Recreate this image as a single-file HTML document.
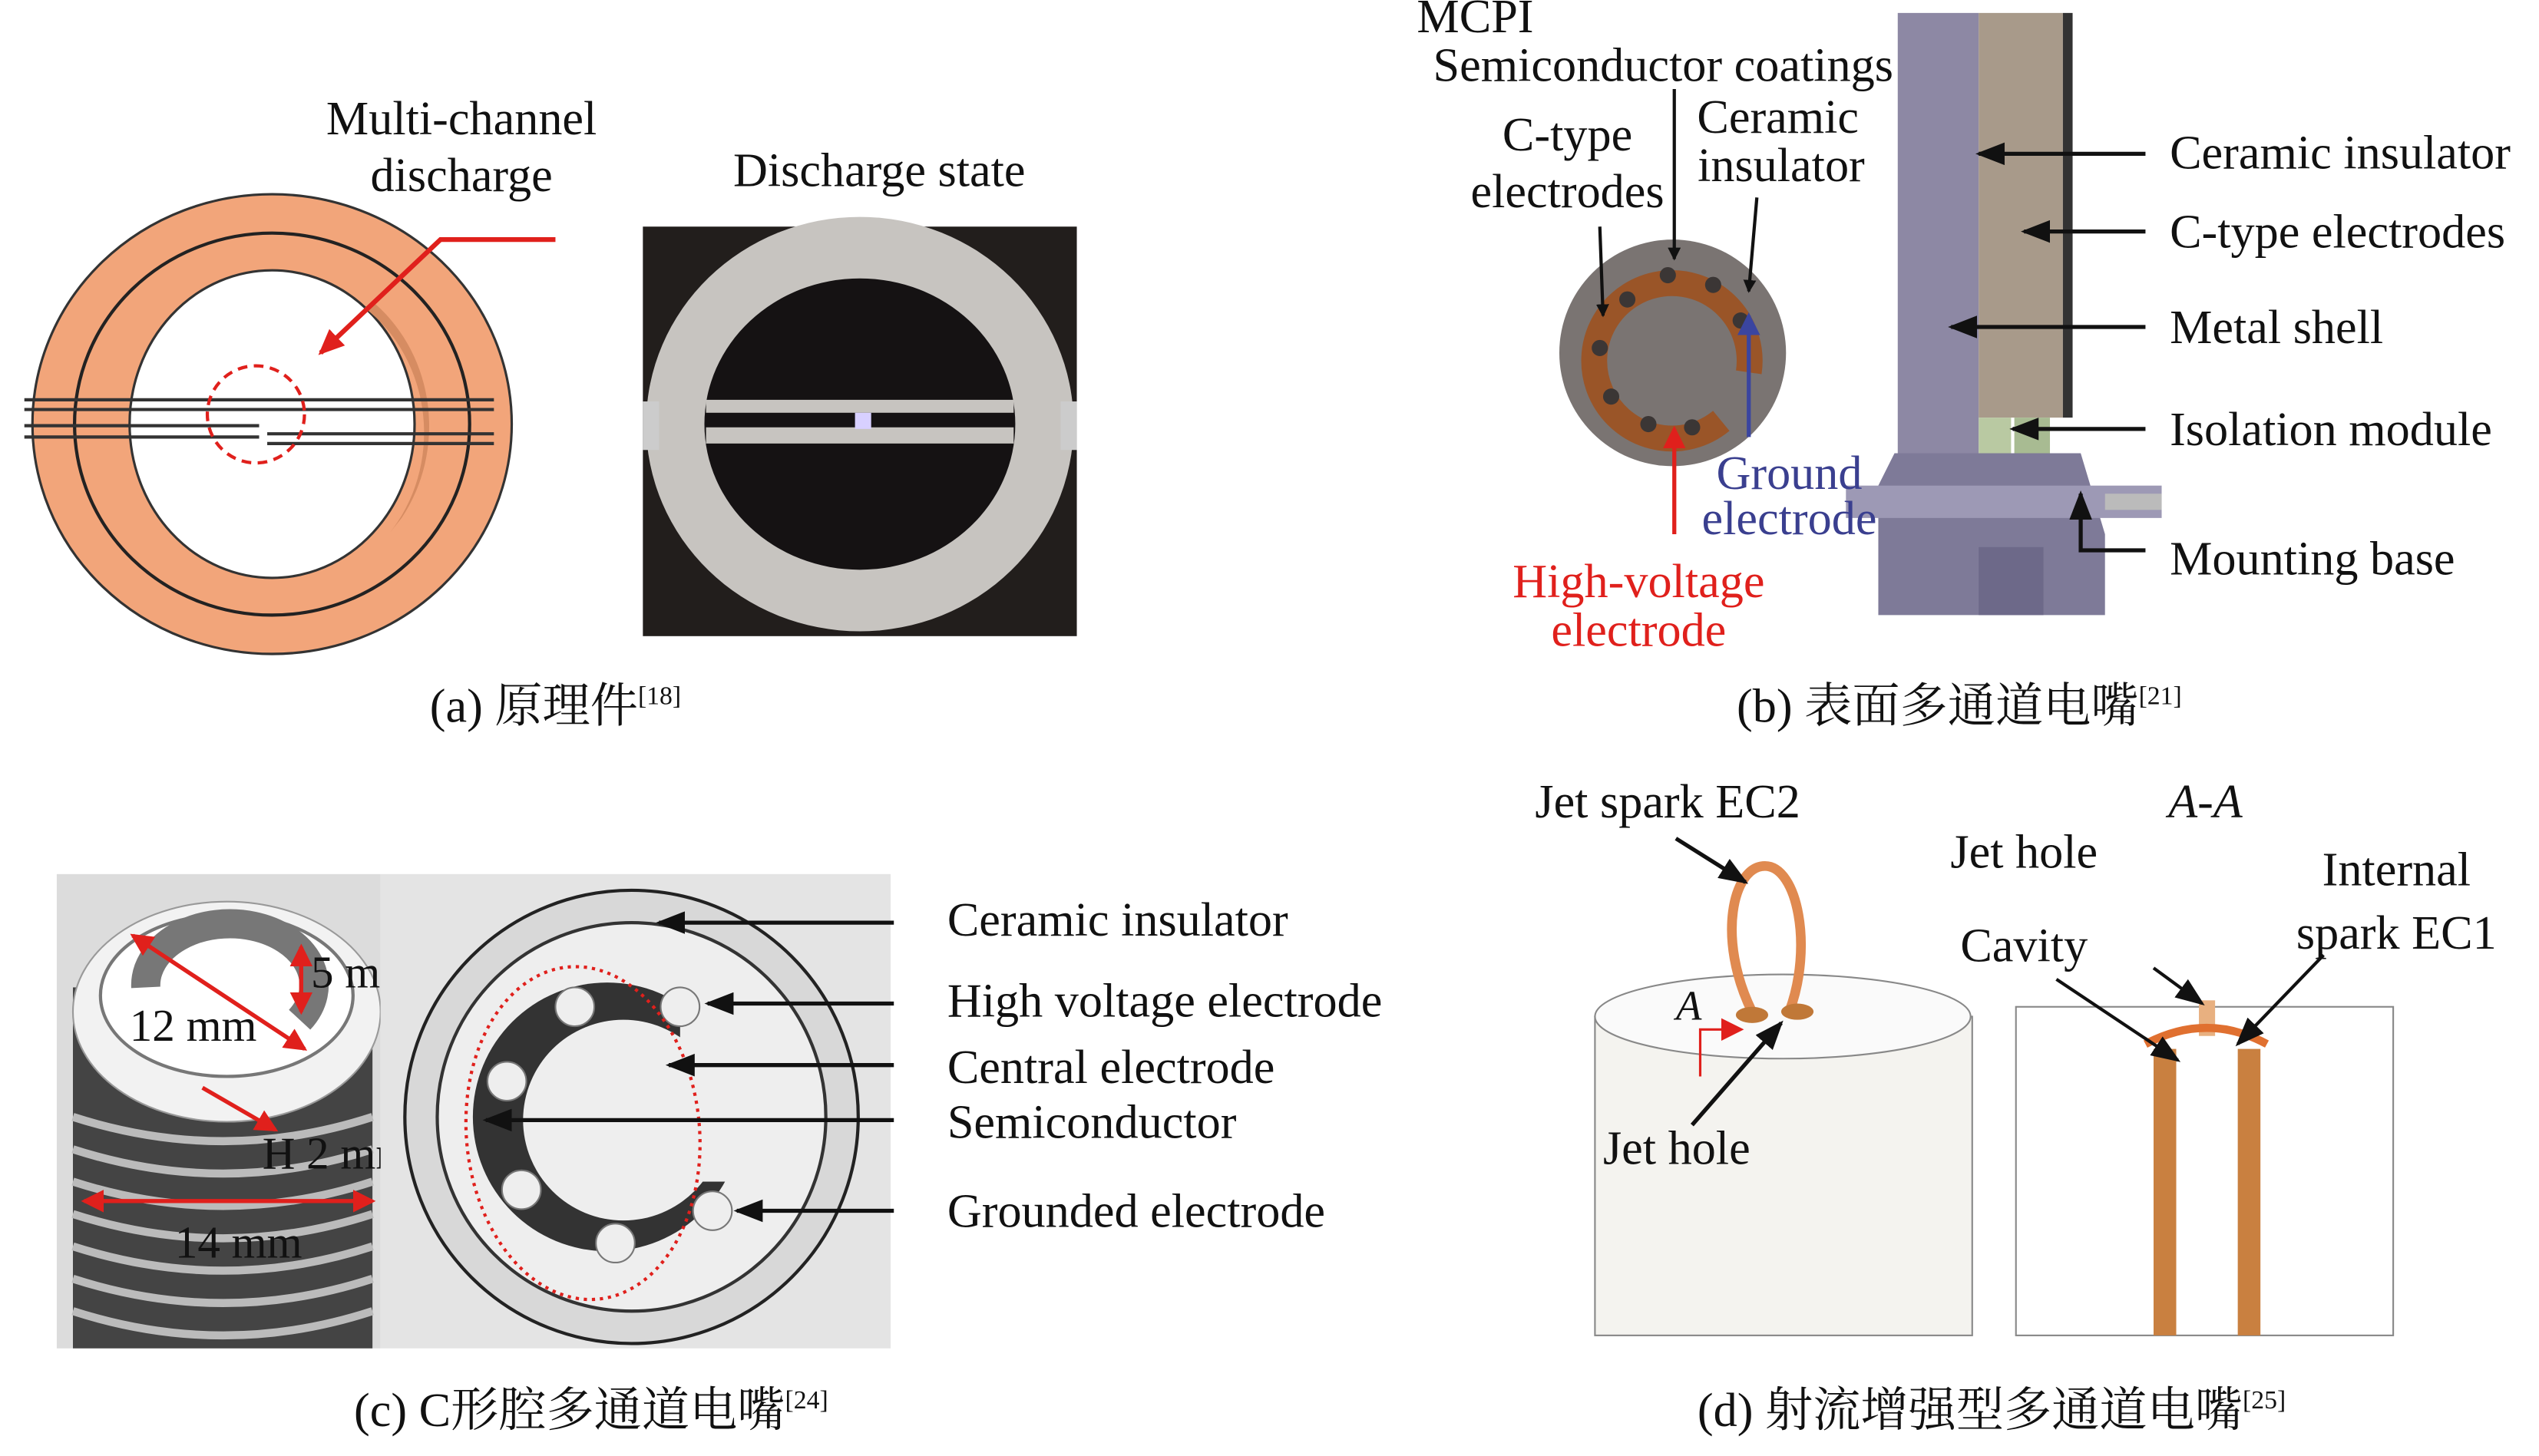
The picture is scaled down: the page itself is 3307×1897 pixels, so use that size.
<!DOCTYPE html>
<html><head><meta charset="utf-8"><style>
html,body{margin:0;padding:0;background:#fff;}
svg{display:block;}
text{font-family:"Liberation Serif","Noto Serif CJK SC",serif;fill:#111;}
</style></head><body>
<svg width="3307" height="1897" viewBox="0 0 1568 899.5" xmlns="http://www.w3.org/2000/svg">
<defs>
<marker id="ab" markerWidth="8" markerHeight="8" refX="7" refY="4" orient="auto" markerUnits="userSpaceOnUse"><path d="M0,0 L8,4 L0,8 z" fill="#111"/></marker>
<marker id="ar" markerWidth="16" markerHeight="14" refX="14" refY="7" orient="auto" markerUnits="userSpaceOnUse"><path d="M0,0 L16,7 L0,14 z" fill="#e0201c"/></marker>
<marker id="ak" markerWidth="18" markerHeight="14" refX="16" refY="7" orient="auto" markerUnits="userSpaceOnUse"><path d="M0,0 L18,7 L0,14 z" fill="#111"/></marker>
<marker id="abl" markerWidth="14" markerHeight="14" refX="12" refY="7" orient="auto" markerUnits="userSpaceOnUse"><path d="M0,0 L14,7 L0,14 z" fill="#3a45a0"/></marker>
<marker id="are" markerWidth="14" markerHeight="14" refX="12" refY="7" orient="auto" markerUnits="userSpaceOnUse"><path d="M0,0 L14,7 L0,14 z" fill="#e0201c"/></marker>
</defs>

<!-- Panel a -->
<ellipse cx="168" cy="262" rx="148" ry="142" fill="#f2a57a" stroke="#333" stroke-width="1.5"/>
<ellipse cx="168" cy="262" rx="122" ry="118" fill="none" stroke="#222" stroke-width="2"/>
<ellipse cx="168" cy="262" rx="88" ry="95" fill="#fff" stroke="#333" stroke-width="1.5"/>
<path d="M225,190 A88,95 0 0 1 240,330 L248,320 A92,98 0 0 0 232,188 z" fill="#d68c62"/>
<g stroke="#333" stroke-width="2">
<line x1="15" y1="247" x2="305" y2="247"/><line x1="15" y1="253" x2="305" y2="253"/>
<line x1="15" y1="263" x2="160" y2="263"/><line x1="165" y1="268" x2="305" y2="268"/>
<line x1="15" y1="270" x2="160" y2="270"/><line x1="165" y1="274" x2="305" y2="274"/>
</g>
<circle cx="158" cy="256" r="30" fill="none" stroke="#e0201c" stroke-width="2" stroke-dasharray="6,4"/>
<polyline points="343,148 272,148 198,218" fill="none" stroke="#e0201c" stroke-width="3" marker-end="url(#ar)"/>
<g font-size="29.5">
<text x="285" y="83" text-anchor="middle">Multi-channel</text>
<text x="285" y="118" text-anchor="middle">discharge</text>
<text x="543" y="115" text-anchor="middle">Discharge state</text>
</g>
<rect x="397" y="140" width="268" height="253" fill="#221e1c"/>
<ellipse cx="531" cy="262" rx="132" ry="128" fill="#c7c4c0"/>
<ellipse cx="531" cy="262" rx="96" ry="90" fill="#151213"/>
<rect x="436" y="247" width="190" height="8" fill="#c7c4c0"/>
<rect x="436" y="264" width="190" height="10" fill="#c7c4c0"/>
<rect x="528" y="255" width="10" height="10" fill="#d8d0ff"/>
<rect x="397" y="248" width="10" height="30" fill="#ccc"/><rect x="655" y="248" width="10" height="30" fill="#ccc"/>
<text x="343" y="446" font-size="29.5" text-anchor="middle">(a) 原理件<tspan font-size="16" dy="-11">[18]</tspan></text>

<!-- Panel b -->
<rect x="1172" y="8" width="50" height="330" fill="#8d88a4"/>
<rect x="1222" y="8" width="52" height="250" fill="#a89a8a"/>
<rect x="1274" y="8" width="6" height="250" fill="#333"/>
<rect x="1222" y="258" width="20" height="78" fill="#b9c9a2"/>
<rect x="1244" y="258" width="22" height="78" fill="#a8bb92"/>
<polygon points="1170,280 1160,300 1160,380 1300,380 1300,330 1285,280" fill="#7e7a98"/>
<rect x="1140" y="300" width="195" height="20" fill="#9d99b5"/>
<rect x="1300" y="305" width="35" height="10" fill="#bbb"/>
<rect x="1222" y="338" width="40" height="42" fill="#6d6989"/>
<circle cx="1033" cy="218" r="70" fill="#7a7472"/>
<path d="M1063,260 A48,48 0 1 1 1080,230" fill="none" stroke="#9a5528" stroke-width="16"/>
<g fill="#3b3635"><circle cx="1005" cy="185" r="5"/><circle cx="1030" cy="170" r="5"/><circle cx="1058" cy="176" r="5"/><circle cx="1075" cy="198" r="5"/><circle cx="988" cy="215" r="5"/><circle cx="995" cy="245" r="5"/><circle cx="1018" cy="262" r="5"/><circle cx="1045" cy="264" r="5"/></g>
<g font-size="29.5">
<text x="875" y="20">MCPI</text>
<text x="885" y="50">Semiconductor coatings</text>
<text x="968" y="93" text-anchor="middle">C-type</text>
<text x="968" y="128" text-anchor="middle">electrodes</text>
<text x="1098" y="82" text-anchor="middle">Ceramic</text>
<text x="1100" y="112" text-anchor="middle">insulator</text>
</g>
<line x1="1034" y1="55" x2="1034" y2="160" stroke="#111" stroke-width="2" marker-end="url(#ab)"/>
<line x1="988" y1="140" x2="990" y2="195" stroke="#111" stroke-width="2" marker-end="url(#ab)"/>
<line x1="1085" y1="122" x2="1080" y2="180" stroke="#111" stroke-width="2" marker-end="url(#ab)"/>
<line x1="1080" y1="270" x2="1080" y2="195" stroke="#3a45a0" stroke-width="2.5" marker-end="url(#abl)"/>
<line x1="1034" y1="330" x2="1034" y2="265" stroke="#e0201c" stroke-width="2.5" marker-end="url(#are)"/>
<g font-size="29.5" text-anchor="middle">
<text x="1105" y="302" style="fill:#3a3f8f">Ground</text>
<text x="1105" y="330" style="fill:#3a3f8f">electrode</text>
<text x="1012" y="369" style="fill:#e0201c">High-voltage</text>
<text x="1012" y="399" style="fill:#e0201c">electrode</text>
</g>
<g stroke="#111" stroke-width="2.5">
<line x1="1325" y1="95" x2="1222" y2="95" marker-end="url(#ak)"/>
<line x1="1325" y1="143" x2="1250" y2="143" marker-end="url(#ak)"/>
<line x1="1325" y1="202" x2="1205" y2="202" marker-end="url(#ak)"/>
<line x1="1325" y1="265" x2="1243" y2="265" marker-end="url(#ak)"/>
<polyline points="1325,340 1285,340 1285,305" fill="none" marker-end="url(#ak)"/>
</g>
<g font-size="29.5">
<text x="1340" y="104">Ceramic insulator</text>
<text x="1340" y="153">C-type electrodes</text>
<text x="1340" y="212">Metal shell</text>
<text x="1340" y="275">Isolation module</text>
<text x="1340" y="355">Mounting base</text>
</g>
<text x="1210" y="446" font-size="29.5" text-anchor="middle">(b) 表面多通道电嘴<tspan font-size="16" dy="-11">[21]</tspan></text>

<!-- Panel c -->
<rect x="35" y="540" width="200" height="293" fill="#dcdcdc"/>
<rect x="45" y="610" width="185" height="223" fill="#444"/>
<g stroke="#bbb" stroke-width="5" fill="none">
<path d="M45,690 Q138,720 230,690"/><path d="M45,710 Q138,740 230,710"/><path d="M45,730 Q138,760 230,730"/><path d="M45,750 Q138,780 230,750"/><path d="M45,770 Q138,800 230,770"/><path d="M45,790 Q138,820 230,790"/><path d="M45,810 Q138,840 230,810"/>
</g>
<ellipse cx="140" cy="625" rx="95" ry="68" fill="#f2f2f2" stroke="#999"/>
<ellipse cx="140" cy="615" rx="78" ry="50" fill="#fff" stroke="#777" stroke-width="2"/>
<path d="M90,610 A52,38 0 1 1 185,630" fill="none" stroke="#777" stroke-width="18"/>
<g stroke="#e0201c" stroke-width="2.5">
<line x1="82" y1="578" x2="188" y2="648" marker-end="url(#are)"/><line x1="188" y1="648" x2="82" y2="578" marker-end="url(#are)"/>
<line x1="186" y1="585" x2="186" y2="625" marker-end="url(#are)"/><line x1="186" y1="625" x2="186" y2="585" marker-end="url(#are)"/>
<line x1="125" y1="672" x2="170" y2="698" marker-end="url(#are)"/>
<line x1="52" y1="742" x2="230" y2="742" marker-end="url(#are)"/><line x1="230" y1="742" x2="52" y2="742" marker-end="url(#are)"/>
</g>
<g font-size="28">
<text x="192" y="610">5 mm</text>
<text x="80" y="643">12 mm</text>
<text x="162" y="722">H 2 mm</text>
<text x="108" y="777">14 mm</text>
</g>
<rect x="235" y="540" width="315" height="293" fill="#e4e4e4"/>
<circle cx="390" cy="690" r="140" fill="#d8d8d8" stroke="#222" stroke-width="2"/>
<circle cx="390" cy="690" r="120" fill="#eee" stroke="#333" stroke-width="2"/>
<circle cx="375" cy="690" r="83" fill="#333"/>
<circle cx="385" cy="692" r="62" fill="#eee"/>
<rect x="420" y="600" width="40" height="130" fill="#eee"/>
<g fill="#eee" stroke="#777"><circle cx="355" cy="622" r="12"/><circle cx="420" cy="622" r="12"/><circle cx="313" cy="668" r="12"/><circle cx="322" cy="735" r="12"/><circle cx="380" cy="768" r="12"/><circle cx="440" cy="748" r="12"/></g>
<ellipse cx="360" cy="700" rx="72" ry="103" fill="none" stroke="#e0201c" stroke-width="2" stroke-dasharray="2,3" transform="rotate(-5 360 700)"/>
<g stroke="#111" stroke-width="2.5">
<line x1="552" y1="570" x2="407" y2="570" marker-end="url(#ak)"/>
<line x1="552" y1="620" x2="437" y2="620" marker-end="url(#ak)"/>
<line x1="552" y1="658" x2="413" y2="658" marker-end="url(#ak)"/>
<line x1="552" y1="692" x2="300" y2="692" marker-end="url(#ak)"/>
<line x1="552" y1="748" x2="455" y2="748" marker-end="url(#ak)"/>
</g>
<g font-size="29.5">
<text x="585" y="578">Ceramic insulator</text>
<text x="585" y="628">High voltage electrode</text>
<text x="585" y="669">Central electrode</text>
<text x="585" y="703">Semiconductor</text>
<text x="585" y="758">Grounded electrode</text>
</g>
<text x="365" y="881" font-size="29.5" text-anchor="middle">(c) C形腔多通道电嘴<tspan font-size="16" dy="-11">[24]</tspan></text>

<!-- Panel d -->
<rect x="985" y="628" width="233" height="197" fill="#f4f3ef" stroke="#888"/>
<ellipse cx="1101" cy="628" rx="116" ry="26" fill="#fafafa" stroke="#888"/>
<path d="M1082,625 C1060,580 1070,535 1090,535 C1110,535 1120,585 1105,625" fill="none" stroke="#e08a50" stroke-width="6"/>
<ellipse cx="1082" cy="627" rx="10" ry="5" fill="#c07838"/><ellipse cx="1110" cy="625" rx="10" ry="5" fill="#c07838"/>
<polyline points="1050,665 1050,636 1075,636" fill="none" stroke="#e0201c" stroke-width="1.5" marker-end="url(#are)"/>
<text x="1035" y="630" font-size="26" font-style="italic">A</text>
<line x1="1045" y1="695" x2="1100" y2="632" stroke="#111" stroke-width="2.5" marker-end="url(#ak)"/>
<line x1="1035" y1="518" x2="1078" y2="545" stroke="#111" stroke-width="2.5" marker-end="url(#ak)"/>
<g font-size="29.5">
<text x="948" y="505">Jet spark EC2</text>
<text x="990" y="719">Jet hole</text>
</g>
<rect x="1245" y="622" width="233" height="203" fill="none" stroke="#888"/>
<rect x="1330" y="648" width="14" height="177" fill="#c98040"/>
<rect x="1382" y="648" width="14" height="177" fill="#c98040"/>
<rect x="1358" y="618" width="10" height="22" fill="#e8b080"/>
<path d="M1325,645 Q1363,625 1400,645" fill="none" stroke="#e07030" stroke-width="5"/>
<g stroke="#111" stroke-width="2">
<line x1="1330" y1="598" x2="1360" y2="620" marker-end="url(#ak)"/>
<line x1="1270" y1="605" x2="1345" y2="655" marker-end="url(#ak)"/>
<line x1="1435" y1="590" x2="1382" y2="645" marker-end="url(#ak)"/>
</g>
<g font-size="29.5" text-anchor="middle">
<text x="1362" y="505" font-style="italic">A-A</text>
<text x="1250" y="536">Jet hole</text>
<text x="1250" y="594">Cavity</text>
<text x="1480" y="547">Internal</text>
<text x="1480" y="586">spark EC1</text>
</g>
<text x="1230" y="881" font-size="29.5" text-anchor="middle">(d) 射流增强型多通道电嘴<tspan font-size="16" dy="-11">[25]</tspan></text>
</svg>
</body></html>
